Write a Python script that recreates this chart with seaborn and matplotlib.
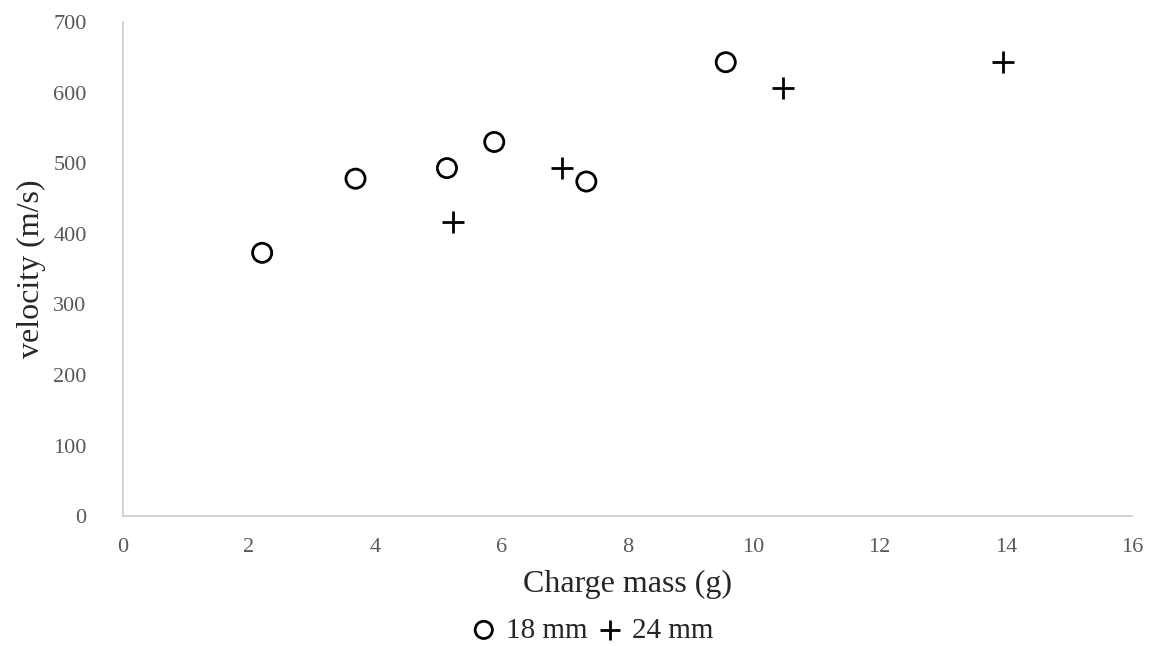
import numpy as np
import pandas as pd
import seaborn as sns
import matplotlib.pyplot as plt

# charge mass (g) and velocity (m/s) for each barrel diameter
mass_18 = [2.21, 3.69, 5.14, 5.89, 7.35, 9.56]
vel_18 = [373, 478, 493, 530, 474, 643]
mass_24 = [5.23, 6.97, 10.46, 13.95]
vel_24 = [416, 493, 606, 643]

x_ticks = [0, 2, 4, 6, 8, 10, 12, 14, 16]
y_ticks = [0, 100, 200, 300, 400, 500, 600, 700]

df18 = pd.DataFrame({"mass": mass_18, "vel": vel_18})
df24 = pd.DataFrame({"mass": mass_24, "vel": vel_24})

sns.set_style("white")
plt.rcParams["font.family"] = ["Liberation Serif", "DejaVu Serif"]

fig, ax = plt.subplots(figsize=(11.58, 6.46), dpi=100)
fig.subplots_adjust(left=0.106, right=0.9775, top=0.966, bottom=0.201)

sns.scatterplot(data=df18, x="mass", y="vel", ax=ax, marker="o", s=190,
                facecolor="none", edgecolor="black", linewidth=2, label="18 mm")
sns.scatterplot(data=df24, x="mass", y="vel", ax=ax, marker="+", s=260,
                color="black", linewidth=2, label="24 mm")

ax.set_xlim(0, 16)
ax.set_ylim(0, 700)
ax.set_xticks(x_ticks)
ax.set_yticks(y_ticks)
ax.tick_params(axis="both", length=0, labelsize=16, labelcolor="#595959")
ax.tick_params(axis="x", pad=16)
ax.tick_params(axis="y", pad=26)

for s in ["top", "right"]:
    ax.spines[s].set_visible(False)
for s in ["left", "bottom"]:
    ax.spines[s].set_color("#d0d0d0")
    ax.spines[s].set_linewidth(1.3)

ax.set_xlabel("Charge mass (g)", fontsize=23, labelpad=9)
ax.set_ylabel("velocity (m/s)", fontsize=23, labelpad=5)

leg = ax.legend(loc="center", bbox_to_anchor=(0.463, -0.231), ncol=2,
                frameon=False, fontsize=21, handletextpad=0.15,
                columnspacing=0.2, markerscale=0.9, handlelength=1.2,
                borderaxespad=0, borderpad=0)

fig.savefig("out.png", dpi=100)
